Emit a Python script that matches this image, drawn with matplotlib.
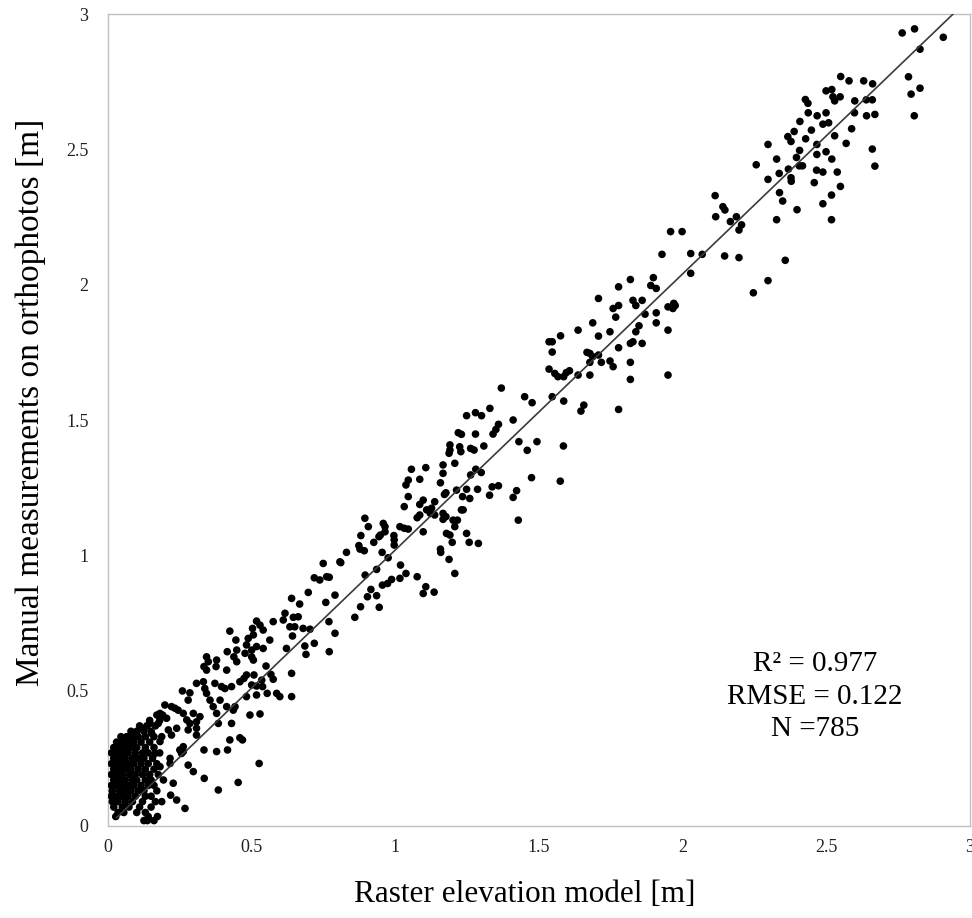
import numpy as np
import matplotlib
matplotlib.use("Agg")
import matplotlib.pyplot as plt

plt.rcParams["font.family"] = ["Liberation Serif", "DejaVu Serif"]

# ── Datos ─────────────────────────────────────────────────────────────────────
# zona alta (x > 2.13)
pts_alta = [
    (2.764, 2.930), (2.807, 2.945), (2.907, 2.914), (2.826, 2.870), (2.786, 2.768),
    (2.826, 2.726), (2.795, 2.704), (2.806, 2.624), (2.550, 2.769), (2.579, 2.753),
    (2.630, 2.753), (2.661, 2.742), (2.499, 2.716), (2.519, 2.721), (2.523, 2.694),
    (2.529, 2.679), (2.548, 2.694), (2.427, 2.684), (2.436, 2.670), (2.599, 2.679),
    (2.639, 2.683), (2.660, 2.683), (2.437, 2.635), (2.468, 2.624), (2.499, 2.635),
    (2.598, 2.635), (2.640, 2.624), (2.669, 2.629), (2.408, 2.603), (2.488, 2.593),
    (2.508, 2.598), (2.388, 2.566), (2.448, 2.571), (2.366, 2.547), (2.377, 2.529),
    (2.428, 2.539), (2.529, 2.550), (2.588, 2.576), (2.297, 2.518), (2.467, 2.518),
    (2.569, 2.522), (2.407, 2.496), (2.327, 2.464), (2.396, 2.470), (2.467, 2.481),
    (2.499, 2.491), (2.519, 2.464), (2.660, 2.501), (2.256, 2.443), (2.406, 2.439),
    (2.417, 2.439), (2.368, 2.427), (2.336, 2.411), (2.466, 2.423), (2.488, 2.416),
    (2.538, 2.416), (2.669, 2.438), (2.297, 2.389), (2.377, 2.395), (2.378, 2.382),
    (2.458, 2.377), (2.549, 2.363), (2.337, 2.340), (2.348, 2.309), (2.518, 2.331),
    (2.488, 2.299), (2.398, 2.277), (2.327, 2.240), (2.518, 2.240), (2.140, 2.288),
    (2.147, 2.276), (2.166, 2.233), (2.187, 2.251), (2.205, 2.221), (2.196, 2.202),
    (2.146, 2.106), (2.196, 2.100), (2.357, 2.090), (2.297, 2.015), (2.246, 1.970),
]

# zona media-alta (1.36 < x < 2.13)
pts_media_alta = [
    (2.115, 2.251), (1.958, 2.196), (1.998, 2.196), (1.928, 2.112), (2.028, 2.115),
    (2.068, 2.112), (2.028, 2.042), (1.818, 2.019), (1.898, 2.026), (1.889, 1.997),
    (1.908, 1.986), (1.777, 1.992), (1.707, 1.949), (1.758, 1.912), (1.777, 1.923),
    (1.767, 1.880), (1.827, 1.942), (1.837, 1.923), (1.859, 1.942), (1.869, 1.891),
    (1.908, 1.896), (1.949, 1.918), (1.969, 1.931), (1.974, 1.923), (1.966, 1.912),
    (1.687, 1.859), (1.636, 1.832), (1.707, 1.810), (1.747, 1.826), (1.848, 1.848),
    (1.837, 1.826), (1.908, 1.859), (1.949, 1.832), (1.575, 1.811), (1.535, 1.789),
    (1.546, 1.789), (1.546, 1.751), (1.777, 1.767), (1.818, 1.783), (1.827, 1.789),
    (1.859, 1.783), (1.667, 1.750), (1.677, 1.746), (1.707, 1.740), (1.687, 1.734),
    (1.677, 1.713), (1.717, 1.713), (1.747, 1.718), (1.758, 1.697), (1.818, 1.713),
    (1.535, 1.688), (1.555, 1.672), (1.566, 1.660), (1.586, 1.660), (1.595, 1.675),
    (1.606, 1.682), (1.636, 1.666), (1.677, 1.666), (1.818, 1.650), (1.949, 1.666),
    (1.546, 1.586), (1.586, 1.570), (1.656, 1.555), (1.646, 1.533), (1.777, 1.539),
    (1.585, 1.404), (1.574, 1.274), (2.113, 2.329),
]

# zona media (0.6 < x < 1.5)
pts_media = [
    (1.369, 1.618), (1.450, 1.586), (1.476, 1.564), (1.329, 1.543), (1.248, 1.516),
    (1.279, 1.527), (1.300, 1.516), (1.410, 1.500), (1.359, 1.484), (1.350, 1.465),
    (1.340, 1.448), (1.219, 1.453), (1.230, 1.447), (1.279, 1.448), (1.430, 1.420),
    (1.493, 1.420), (1.459, 1.388), (1.190, 1.408), (1.190, 1.389), (1.224, 1.401),
    (1.228, 1.383), (1.262, 1.395), (1.274, 1.389), (1.308, 1.404), (1.187, 1.377),
    (1.166, 1.334), (1.207, 1.340), (1.056, 1.318), (1.106, 1.324), (1.166, 1.303),
    (1.262, 1.297), (1.280, 1.318), (1.299, 1.306), (1.474, 1.287), (1.157, 1.268),
    (1.085, 1.281), (1.045, 1.278), (1.037, 1.260), (1.176, 1.231), (1.171, 1.225),
    (1.213, 1.241), (1.248, 1.244), (1.234, 1.217), (1.259, 1.210), (1.286, 1.244),
    (1.337, 1.253), (1.359, 1.257), (1.328, 1.222), (1.422, 1.239), (1.410, 1.214),
    (1.045, 1.217), (1.031, 1.180), (1.085, 1.188), (1.097, 1.204), (1.137, 1.198),
    (1.126, 1.174), (1.109, 1.168), (1.122, 1.155), (1.085, 1.149), (1.076, 1.139),
    (1.137, 1.149), (1.166, 1.155), (1.176, 1.143), (1.201, 1.130), (1.216, 1.130),
    (1.230, 1.168), (1.236, 1.168), (1.166, 1.133), (1.207, 1.106), (1.178, 1.081),
    (1.190, 1.075), (1.248, 1.081), (1.428, 1.130), (1.257, 1.048), (1.289, 1.044),
    (1.198, 1.048), (1.097, 1.087), (1.157, 1.023), (1.158, 1.011), (1.187, 0.985),
    (1.207, 0.933), (0.894, 1.137), (0.906, 1.106), (0.880, 1.073), (0.958, 1.118),
    (0.964, 1.106), (0.948, 1.075), (0.964, 1.087), (0.943, 1.069), (0.925, 1.048),
    (0.995, 1.073), (0.996, 1.057), (0.996, 1.038), (1.016, 1.106), (1.031, 1.100),
    (1.045, 1.097), (0.873, 1.036), (0.877, 1.023), (0.892, 1.017), (0.830, 1.011),
    (0.807, 0.976), (0.810, 0.973), (0.954, 1.011), (0.975, 0.991), (0.749, 0.970),
    (0.895, 0.927), (0.935, 0.948), (1.018, 0.964), (1.037, 0.933), (1.016, 0.915),
    (0.987, 0.911), (1.076, 0.921), (1.106, 0.884), (1.097, 0.859), (1.135, 0.864),
    (0.718, 0.917), (0.737, 0.909), (0.761, 0.921), (0.770, 0.919), (0.697, 0.863),
    (0.790, 0.853), (0.758, 0.826), (0.667, 0.820), (0.639, 0.841), (0.955, 0.890),
    (0.973, 0.896), (0.915, 0.874), (0.903, 0.847), (0.935, 0.851), (0.879, 0.810),
    (0.944, 0.808), (0.859, 0.771), (0.769, 0.755), (0.790, 0.712), (0.770, 0.644),
    (0.616, 0.786), (0.645, 0.771), (0.662, 0.773), (0.633, 0.736), (0.650, 0.736),
    (0.679, 0.730), (0.703, 0.727), (0.642, 0.702), (0.621, 0.656), (0.685, 0.665),
    (0.689, 0.634), (0.718, 0.675), (0.610, 0.761),
]

# zona baja (x < 0.65)
pts_baja = [
    (0.575, 0.755), (0.517, 0.757), (0.529, 0.742), (0.503, 0.730), (0.540, 0.724),
    (0.424, 0.720), (0.506, 0.706), (0.488, 0.693), (0.563, 0.687), (0.445, 0.687),
    (0.482, 0.669), (0.517, 0.663), (0.540, 0.656), (0.415, 0.644), (0.448, 0.650),
    (0.500, 0.650), (0.477, 0.638), (0.438, 0.625), (0.500, 0.625), (0.343, 0.625),
    (0.378, 0.613), (0.349, 0.607), (0.448, 0.607), (0.506, 0.613), (0.334, 0.589),
    (0.376, 0.589), (0.413, 0.576), (0.343, 0.576), (0.550, 0.591), (0.482, 0.558),
    (0.508, 0.558), (0.473, 0.545), (0.535, 0.539), (0.575, 0.542), (0.567, 0.560),
    (0.308, 0.527), (0.332, 0.533), (0.337, 0.508), (0.372, 0.527), (0.395, 0.515),
    (0.407, 0.508), (0.430, 0.515), (0.459, 0.533), (0.500, 0.521), (0.517, 0.517),
    (0.538, 0.515), (0.259, 0.499), (0.285, 0.492), (0.279, 0.465), (0.343, 0.490),
    (0.355, 0.465), (0.366, 0.441), (0.390, 0.465), (0.378, 0.416), (0.413, 0.441),
    (0.436, 0.428), (0.442, 0.441), (0.482, 0.478), (0.517, 0.484), (0.554, 0.490),
    (0.587, 0.490), (0.598, 0.478), (0.639, 0.478), (0.639, 0.564), (0.198, 0.447),
    (0.221, 0.441), (0.233, 0.435), (0.244, 0.428), (0.181, 0.416), (0.262, 0.416),
    (0.297, 0.416), (0.320, 0.404), (0.285, 0.379), (0.308, 0.385), (0.279, 0.355),
    (0.308, 0.361), (0.146, 0.379), (0.175, 0.379), (0.210, 0.355), (0.239, 0.361),
    (0.384, 0.379), (0.430, 0.379), (0.494, 0.410), (0.529, 0.414), (0.123, 0.355),
    (0.308, 0.336), (0.424, 0.318), (0.459, 0.326), (0.468, 0.318), (0.262, 0.293),
    (0.256, 0.268), (0.216, 0.250), (0.216, 0.231), (0.279, 0.225), (0.297, 0.201),
    (0.334, 0.281), (0.378, 0.275), (0.416, 0.281), (0.526, 0.231), (0.335, 0.176),
    (0.384, 0.133), (0.453, 0.161), (0.239, 0.096), (0.268, 0.065), (0.218, 0.114),
    (0.193, 0.170), (0.181, 0.219), (0.164, 0.268), (0.152, 0.342), (0.227, 0.158),
    (0.187, 0.090), (0.181, 0.312), (0.187, 0.330), (0.221, 0.336), (0.204, 0.398),
    (0.274, 0.392), (0.262, 0.275), (0.250, 0.281),
]

# núcleo denso cerca del origen: (y, [x...]) por filas
nucleo_filas = [
    (0.020, [0.125, 0.137, 0.160]),
    (0.035, [0.027, 0.140, 0.172]),
    (0.050, [0.035, 0.055, 0.100, 0.130]),
    (0.070, [0.020, 0.050, 0.073, 0.110, 0.150]),
    (0.090, [0.015, 0.035, 0.060, 0.085, 0.120, 0.165]),
    (0.110, [0.012, 0.030, 0.050, 0.070, 0.095, 0.130, 0.150]),
    (0.130, [0.015, 0.040, 0.060, 0.080, 0.105, 0.125, 0.170]),
    (0.150, [0.012, 0.030, 0.050, 0.070, 0.090, 0.115, 0.140, 0.160]),
    (0.170, [0.020, 0.040, 0.060, 0.085, 0.100, 0.130, 0.150]),
    (0.190, [0.012, 0.030, 0.050, 0.075, 0.095, 0.120, 0.145, 0.175]),
    (0.210, [0.020, 0.040, 0.060, 0.080, 0.105, 0.130, 0.160]),
    (0.230, [0.012, 0.030, 0.050, 0.070, 0.090, 0.115, 0.140, 0.170]),
    (0.250, [0.020, 0.040, 0.060, 0.085, 0.105, 0.125, 0.155]),
    (0.270, [0.012, 0.030, 0.050, 0.070, 0.095, 0.120, 0.140, 0.180]),
    (0.290, [0.020, 0.040, 0.060, 0.080, 0.100, 0.130, 0.160]),
    (0.310, [0.030, 0.050, 0.070, 0.090, 0.115, 0.145]),
    (0.330, [0.045, 0.065, 0.085, 0.105, 0.130, 0.160]),
    (0.350, [0.080, 0.100, 0.125, 0.150]),
    (0.370, [0.110, 0.135, 0.165]),
    (0.390, [0.145, 0.180]),
    (0.410, [0.170, 0.190]),
]

# línea de tendencia y estadísticos
TENDENCIA_PENDIENTE = 1.02
TENDENCIA_ORDENADA = 0.0
TENDENCIA_X = [0.03, 3.0]
TEXTO_STATS = "R² = 0.977\nRMSE = 0.122\nN =785"

# ── Armado de arrays ─────────────────────────────────────────────────────────
pts_nucleo = [(x, y) for y, xs in nucleo_filas for x in xs]
todos = pts_alta + pts_media_alta + pts_media + pts_baja + pts_nucleo
xs = np.array([p[0] for p in todos])
ys = np.array([p[1] for p in todos])

# ── Figura ───────────────────────────────────────────────────────────────────
fig = plt.figure(figsize=(9.72, 9.18), dpi=100)
ax = fig.add_axes([108 / 972, 92 / 918, 862 / 972, 812 / 918])

ax.scatter(xs, ys, s=30, color="black", edgecolors="none", zorder=3)

tx = np.array(TENDENCIA_X)
ax.plot(tx, TENDENCIA_PENDIENTE * tx + TENDENCIA_ORDENADA, color="#3a3a3a", lw=1.2, zorder=4)

ax.set_xlim(0, 3)
ax.set_ylim(0, 3)
ax.set_xticks([0, 0.5, 1, 1.5, 2, 2.5, 3])
ax.set_yticks([0, 0.5, 1, 1.5, 2, 2.5, 3])
ax.set_xticklabels(["0", "0.5", "1", "1.5", "2", "2.5", "3"])
ax.set_yticklabels(["0", "0.5", "1", "1.5", "2", "2.5", "3"])
ax.tick_params(length=0, labelsize=13, colors="#222222")
ax.tick_params(axis="x", pad=9)
ax.tick_params(axis="y", pad=14)

for s in ax.spines.values():
    s.set_color("#c0c0c0")
    s.set_linewidth(1.0)

ax.set_xlabel("Raster elevation model [m]", fontsize=22.5)
ax.set_ylabel("Manual measurements on orthophotos [m]", fontsize=24)
ax.xaxis.set_label_coords(0.484, -0.066)
ax.yaxis.set_label_coords(-0.072, 0.522)

ax.text(0.820, 0.159, TEXTO_STATS, transform=ax.transAxes, ha="center", va="center",
        fontsize=21, linespacing=1.32, multialignment="center")

fig.savefig("out.png", dpi=100)
